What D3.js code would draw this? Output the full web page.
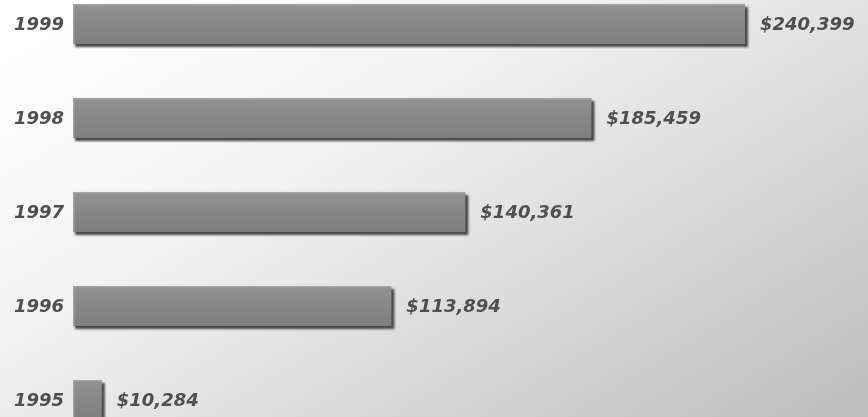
<!DOCTYPE html>
<html><head><meta charset="utf-8">
<script src="https://cdn.jsdelivr.net/npm/d3@7"></script>
<style>html,body{margin:0;padding:0;overflow:hidden;background:#fff}</style>
</head><body>
<script>
const years = ["1999","1998","1997","1996","1995"];
const values = [240399, 185459, 140361, 113894, 10284];
const labels = ["$240,399","$185,459","$140,361","$113,894","$10,284"];

const W = 868, H = 417;
const svg = d3.select("body").append("svg").attr("width", W).attr("height", H);
const defs = svg.append("defs");
const bg = defs.append("linearGradient").attr("id","bg")
  .attr("x1","0").attr("y1","0.1").attr("x2","1").attr("y2","0.9");
bg.append("stop").attr("offset","0").attr("stop-color","#ffffff");
bg.append("stop").attr("offset","0.35").attr("stop-color","#f2f2f2");
bg.append("stop").attr("offset","0.7").attr("stop-color","#d8d8d8");
bg.append("stop").attr("offset","1").attr("stop-color","#c0c0c0");
const face = defs.append("linearGradient").attr("id","face")
  .attr("x1","0").attr("y1","0").attr("x2","0").attr("y2","1");
face.append("stop").attr("offset","0").attr("stop-color","#929292");
face.append("stop").attr("offset","0.5").attr("stop-color","#878787");
face.append("stop").attr("offset","1").attr("stop-color","#7f7f7f");
defs.append("filter").attr("id","blur").append("feGaussianBlur").attr("stdDeviation","0.8");
defs.append("filter").attr("id","tblur").append("feGaussianBlur").attr("stdDeviation","0.35");

svg.append("rect").attr("width",W).attr("height",H).attr("fill","url(#bg)");

const x = d3.scaleLinear().domain([0, 240399]).range([73, 745]);
const y = d3.scaleBand().domain(years).range([-50, 474]).padding(0.574);

const g = svg.append("g");
const rows = g.selectAll("g.row").data(years.map((yr,i)=>({yr, v:values[i], lab:labels[i]})))
  .join("g").attr("class","row");

rows.append("rect")
  .attr("x", d => x(0) + 2).attr("y", d => y(d.yr) + 3)
  .attr("width", d => x(d.v) - x(0) + 1).attr("height", y.bandwidth())
  .attr("fill", "#474747").attr("filter","url(#blur)");
rows.append("rect")
  .attr("x", d => x(0)).attr("y", d => y(d.yr))
  .attr("width", d => x(d.v) - x(0)).attr("height", y.bandwidth())
  .attr("fill", "url(#face)");
rows.append("rect")
  .attr("x", d => x(0)).attr("y", d => y(d.yr))
  .attr("width", d => x(d.v) - x(0)).attr("height", 1.5)
  .attr("fill", "#a4a4a4");
rows.append("rect")
  .attr("x", d => x(0)).attr("y", d => y(d.yr))
  .attr("width", 1.5).attr("height", y.bandwidth())
  .attr("fill", "#a0a0a0");

const font = "'DejaVu Sans', sans-serif";
rows.append("text")
  .attr("x", 64).attr("y", d => y(d.yr) + y.bandwidth()/2)
  .attr("dy", "0.36em").attr("text-anchor","end")
  .attr("font-family", font).attr("font-style","italic").attr("font-weight","bold")
  .attr("font-size", 18).attr("fill","#505050").attr("filter","url(#tblur)")
  .text(d => d.yr);
rows.append("text")
  .attr("x", d => x(d.v) + 15).attr("y", d => y(d.yr) + y.bandwidth()/2)
  .attr("dy", "0.36em")
  .attr("font-family", font).attr("font-style","italic").attr("font-weight","bold")
  .attr("font-size", 18).attr("fill","#505050").attr("filter","url(#tblur)")
  .text(d => d.lab);
</script>
</body></html>
